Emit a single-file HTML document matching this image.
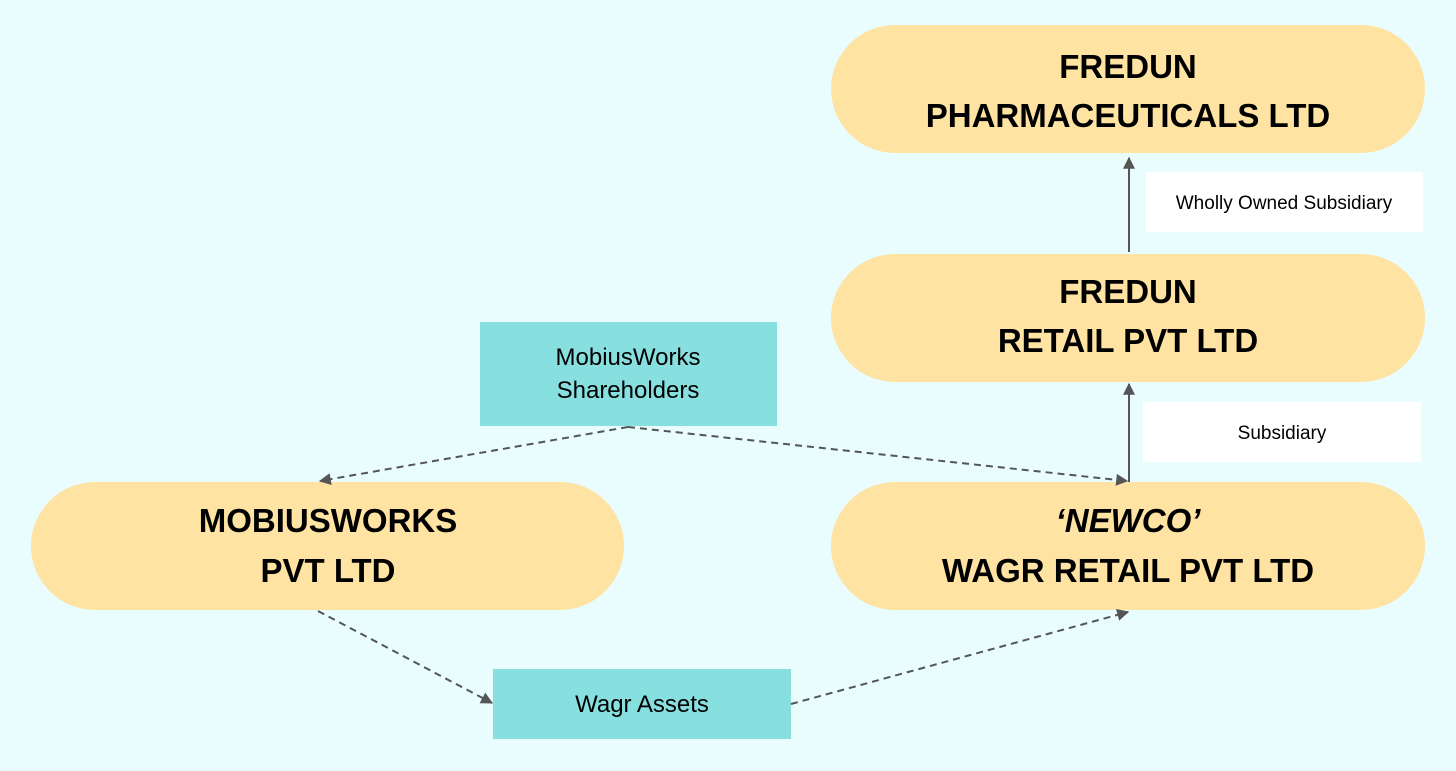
<!DOCTYPE html>
<html><head><style>
html,body{margin:0;padding:0;width:1456px;height:771px;overflow:hidden;background:#e9fdff;}
</style></head><body>
<svg width="1456" height="771" viewBox="0 0 1456 771" xmlns="http://www.w3.org/2000/svg" font-family="Liberation Sans, sans-serif">
<defs>
<marker id="b" viewBox="0 0 10 10" refX="9" refY="5" markerWidth="14" markerHeight="12" markerUnits="userSpaceOnUse" orient="auto"><path d="M0,0 L10,5 L0,10 z" fill="#555"/></marker>
</defs>
<rect width="1456" height="771" fill="#e9fdff"/>
<g fill="#ffe3a2">
<rect x="831" y="25" width="594" height="128" rx="64"/>
<rect x="831" y="254" width="594" height="128" rx="64"/>
<rect x="831" y="482" width="594" height="128" rx="64"/>
<rect x="31" y="482" width="593" height="128" rx="64"/>
</g>
<g fill="#88dfdf">
<rect x="480" y="322" width="297" height="104"/>
<rect x="493" y="669" width="298" height="70"/>
</g>
<g fill="#fff">
<rect x="1146" y="172" width="277" height="60"/>
<rect x="1143" y="402" width="278" height="60"/>
</g>
<g stroke="#555" stroke-width="2" fill="none">
<line x1="1129" y1="252" x2="1129" y2="158" marker-end="url(#b)"/>
<line x1="1129" y1="482" x2="1129" y2="384" marker-end="url(#b)"/>
</g>
<g stroke="#555" stroke-width="2" fill="none" stroke-dasharray="7,5">
<line x1="628" y1="427" x2="320" y2="481" marker-end="url(#b)"/>
<line x1="628" y1="427" x2="1127" y2="481" marker-end="url(#b)"/>
<line x1="318" y1="611" x2="492" y2="703" marker-end="url(#b)"/>
<line x1="791" y1="704" x2="1128" y2="612" marker-end="url(#b)"/>
</g>
<g font-weight="bold" font-size="33" text-anchor="middle" fill="#000">
<text x="1128" y="78">FREDUN</text>
<text x="1128" y="127">PHARMACEUTICALS LTD</text>
<text x="1128" y="303">FREDUN</text>
<text x="1128" y="352">RETAIL PVT LTD</text>
<text x="1128" y="532" font-style="italic">‘NEWCO’</text>
<text x="1128" y="582">WAGR RETAIL PVT LTD</text>
<text x="328" y="532">MOBIUSWORKS</text>
<text x="328" y="582">PVT LTD</text>
</g>
<g font-size="24" text-anchor="middle" fill="#000">
<text x="628" y="365">MobiusWorks</text>
<text x="628" y="398">Shareholders</text>
<text x="642" y="712">Wagr Assets</text>
</g>
<g font-size="19" text-anchor="middle" fill="#000">
<text x="1284" y="209">Wholly Owned Subsidiary</text>
<text x="1282" y="439">Subsidiary</text>
</g>
</svg>
</body></html>
